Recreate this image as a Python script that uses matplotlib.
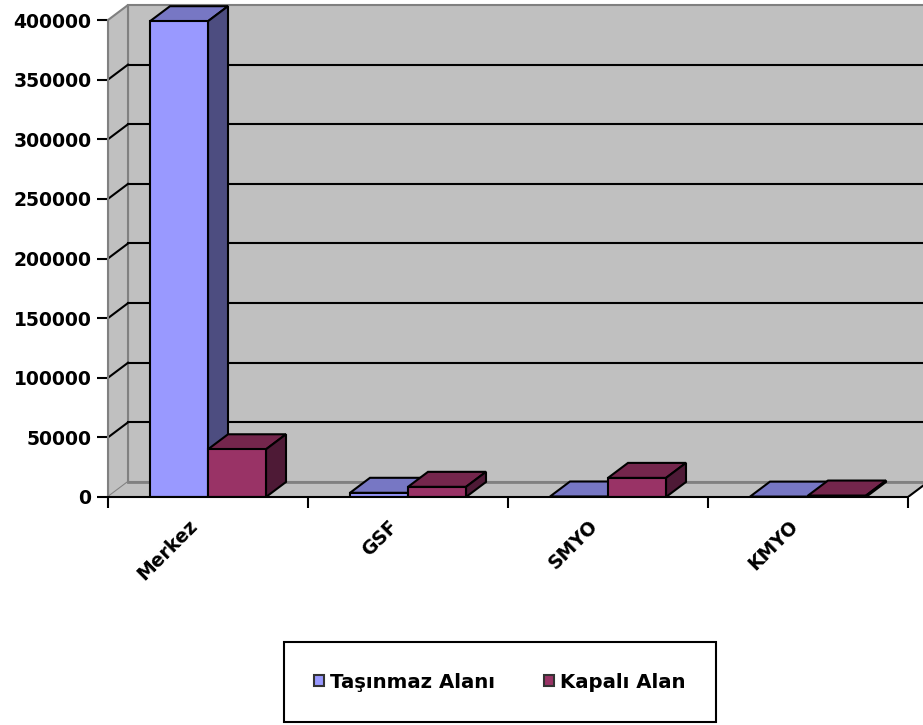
import matplotlib.pyplot as plt
from matplotlib.patches import Polygon, Rectangle, Patch
from matplotlib.transforms import ScaledTranslation

categories = ['Merkez', 'GSF', 'SMYO', 'KMYO']
tasinmaz = [399000, 3500, 400, 300]
kapali = [40000, 8500, 16000, 1200]
series_names = ['Taşınmaz Alanı', 'Kapalı Alan']
y_ticks = [0, 50000, 100000, 150000, 200000, 250000, 300000, 350000, 400000]

plt.rcParams['font.family'] = 'DejaVu Sans'
plt.rcParams['font.weight'] = 'bold'

# colours of the three visible faces (front, top, side)
blue = ('#9999FF', '#7777C4', '#4D4D80')
red = ('#993366', '#74264C', '#4E1A36')
wall = '#C0C0C0'
edge_gray = '#808080'

# depth of the fake 3d box, in data units
dx = 0.1
dy = 12600
bar_w = 0.29
ymax = 400000

fig = plt.figure(figsize=(9.23, 7.25), dpi=100)
ax = fig.add_axes([108 / 923, 228 / 725, 815 / 923, 497 / 725])
ax.set_xlim(-0.5, 3.575)
ax.set_ylim(0, 416800)
x0, x1 = -0.5, 3.5

# back wall
ax.add_patch(Rectangle((x0 + dx, dy), 4.0, ymax, facecolor=wall,
                       edgecolor=edge_gray, lw=1.5, zorder=1))
# left side wall
ax.add_patch(Polygon([(x0, 0), (x0 + dx, dy), (x0 + dx, ymax + dy), (x0, ymax)],
                     facecolor=wall, edgecolor=edge_gray, lw=1.5, zorder=1))
# floor
ax.add_patch(Polygon([(x0, 0), (x1, 0), (x1 + dx, dy), (x0 + dx, dy)],
                     facecolor=wall, edgecolor='none', zorder=1))
ax.plot([x0 + dx, 3.575], [dy, dy], color=edge_gray, lw=2, zorder=1.5)
ax.plot([x1, x1 + dx], [0, dy], color='black', lw=1.5, zorder=1.5)

# gridlines on back wall and side wall
for v in y_ticks[1:-1]:
    ax.plot([x0 + dx, 3.575], [v + dy, v + dy], color='black', lw=1.5, zorder=1.5)
    ax.plot([x0, x0 + dx], [v, v + dy], color='black', lw=1.5, zorder=1.5)


def draw_bar(xl, h, cols):
    xr = xl + bar_w
    ax.add_patch(Polygon([(xl, h), (xr, h), (xr + dx, h + dy), (xl + dx, h + dy)],
                         facecolor=cols[1], edgecolor='black', lw=1.5, zorder=3))
    ax.add_patch(Polygon([(xr, 0), (xr + dx, dy), (xr + dx, h + dy), (xr, h)],
                         facecolor=cols[2], edgecolor='black', lw=1.5, zorder=3))
    ax.add_patch(Rectangle((xl, 0), bar_w, h, facecolor=cols[0],
                           edgecolor='black', lw=1.5, zorder=3))


for i in range(len(categories)):
    draw_bar(i - bar_w, tasinmaz[i], blue)
    draw_bar(i, kapali[i], red)

# axes, ticks and labels
for s in ['top', 'right']:
    ax.spines[s].set_visible(False)
ax.spines['left'].set_bounds(0, ymax)
ax.spines['left'].set_color(edge_gray)
ax.spines['left'].set_linewidth(1.5)
ax.spines['bottom'].set_bounds(x0, x1)
ax.spines['bottom'].set_linewidth(1.5)
ax.spines['bottom'].set_zorder(4)

ax.set_yticks(y_ticks)
ax.set_yticklabels([str(v) for v in y_ticks])
ax.tick_params(axis='y', direction='out', length=8, width=1.5, color='black',
               labelsize=13.5, pad=4)

ax.set_xticks(range(len(categories)))
ax.set_xticks([x0 + k for k in range(5)], minor=True)
ax.set_xticklabels(categories, rotation=45, ha='right', va='top',
                   rotation_mode='anchor')
ax.tick_params(axis='x', which='major', length=0, labelsize=13.5, pad=14)
ax.tick_params(axis='x', which='minor', direction='out', length=8, width=1.5)
shift = ScaledTranslation(-20 / 100, 0, fig.dpi_scale_trans)
for lab in ax.get_xticklabels():
    lab.set_transform(lab.get_transform() + shift)

handles = [Patch(facecolor=blue[0], edgecolor='#333333', lw=1.5),
           Patch(facecolor=red[0], edgecolor='#333333', lw=1.5)]
leg = fig.legend(handles, series_names, loc='center',
                 bbox_to_anchor=(500 / 923, 1 - 682 / 725), ncol=2,
                 prop={'size': 14.2, 'weight': 'bold'}, fancybox=False,
                 framealpha=1, edgecolor='black', borderpad=1.55,
                 handlelength=0.5, handleheight=0.5, handletextpad=0.3,
                 columnspacing=2.5, borderaxespad=0)
leg.get_frame().set_linewidth(1.5)

fig.savefig('out.png', dpi=100)
